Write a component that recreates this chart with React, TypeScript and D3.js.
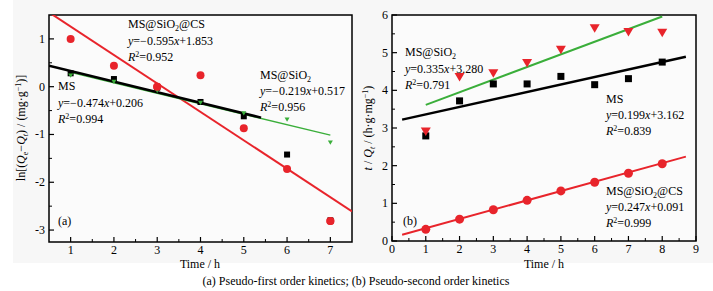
import React from "react";
import * as d3 from "d3";

// ---- Data: panel (a) pseudo-first order ----
const timeA = [1, 2, 3, 4, 5, 6, 7];
const msA = [0.28, 0.16, -0.02, -0.32, -0.62, -1.42, -2.8];
const sio2A = [0.23, 0.1, -0.09, -0.34, -0.56, -0.69, -1.17];
const csA = [1.0, 0.44, 0.0, 0.24, -0.87, -1.72, -2.81];
// drawn fit lines [slope, intercept, xStart, xEnd]
const msLineA = [-0.222, 0.551, 0.5, 5.4];
const sio2LineA = [-0.219, 0.517, 1, 7];
const csLineA = [-0.595, 1.853, 0.5, 7.5];

// ---- Data: panel (b) pseudo-second order ----
const timeB = [1, 2, 3, 4, 5, 6, 7, 8];
const msB = [2.79, 3.72, 4.17, 4.17, 4.37, 4.15, 4.31, 4.75];
const sio2B = [2.9, 4.35, 4.45, 4.72, 5.07, 5.64, 5.54, 5.52];
const csB = [0.31, 0.58, 0.83, 1.08, 1.33, 1.56, 1.8, 2.05];
const msLineB = [0.199, 3.162, 0.3, 8.7];
const sio2LineB = [0.335, 3.28, 1, 8];
const csLineB = [0.247, 0.091, 0.3, 8.7];

const xTicksA = [1, 2, 3, 4, 5, 6, 7];
const yTicksA = [-3, -2, -1, 0, 1];
const xTicksB = [0, 1, 2, 3, 4, 5, 6, 7, 8, 9];
const yTicksB = [0, 1, 2, 3, 4, 5, 6];

const RED = "#e8242b";
const GREEN = "#3aae3a";
const FONT = "'Liberation Serif', 'Times New Roman', serif";

const xA = d3.scaleLinear().domain([0.5, 7.5]).range([49, 352]);
const yA = d3.scaleLinear().domain([-3.25, 1.5]).range([242, 15]);
const xB = d3.scaleLinear().domain([0, 9]).range([392, 696]);
const yB = d3.scaleLinear().domain([0, 6]).range([241, 15]);

type S = d3.ScaleLinear<number, number>;

function Frame({ x, y, xt, yt, xMinor, yMinor }: { x: S; y: S; xt: number[]; yt: number[]; xMinor: number[]; yMinor: number[] }) {
  const [x0, x1] = x.range();
  const [y0, y1] = y.range();
  return (
    <g>
      <rect x={x0} y={y1} width={x1 - x0} height={y0 - y1} fill="#fbfbfb" stroke="#000" strokeWidth={1.5} />
      {xt.map((t) => (
        <g key={"xt" + t}>
          <line x1={x(t)} x2={x(t)} y1={y0} y2={y0 - 5} stroke="#000" strokeWidth={1.2} />
          <text x={x(t)} y={y0 + 12} fontSize={12} textAnchor="middle" fontFamily={FONT}>{t}</text>
        </g>
      ))}
      {xMinor.map((t) => (
        <line key={"xm" + t} x1={x(t)} x2={x(t)} y1={y0} y2={y0 - 3} stroke="#000" strokeWidth={1} />
      ))}
      {yt.map((t) => (
        <g key={"yt" + t}>
          <line x1={x0} x2={x0 + 5} y1={y(t)} y2={y(t)} stroke="#000" strokeWidth={1.2} />
          <text x={x0 - 4} y={y(t) + 4} fontSize={12} textAnchor="end" fontFamily={FONT}>{t < 0 ? "-" + Math.abs(t) : t}</text>
        </g>
      ))}
      {yMinor.map((t) => (
        <line key={"ym" + t} x1={x0} x2={x0 + 3} y1={y(t)} y2={y(t)} stroke="#000" strokeWidth={1} />
      ))}
    </g>
  );
}

function FitLine({ x, y, p, color, w, clip }: { x: S; y: S; p: number[]; color: string; w: number; clip: string }) {
  const [m, b, s, e] = p;
  const gen = d3.line<number>().x((d) => x(d)).y((d) => y(m * d + b));
  return <path d={gen([s, e]) || ""} stroke={color} strokeWidth={w} fill="none" clipPath={`url(#${clip})`} />;
}

function Squares({ x, y, xs, ys, size }: { x: S; y: S; xs: number[]; ys: number[]; size: number }) {
  return (
    <g>
      {xs.map((t, i) => (
        <rect key={i} x={x(t) - size / 2} y={y(ys[i]) - size / 2} width={size} height={size} fill="#000" />
      ))}
    </g>
  );
}

function Circles({ x, y, xs, ys, r }: { x: S; y: S; xs: number[]; ys: number[]; r: number }) {
  return (
    <g>
      {xs.map((t, i) => (
        <circle key={i} cx={x(t)} cy={y(ys[i])} r={r} fill={RED} />
      ))}
    </g>
  );
}

function Tris({ x, y, xs, ys, w, color }: { x: S; y: S; xs: number[]; ys: number[]; w: number; color: string }) {
  return (
    <g>
      {xs.map((t, i) => {
        const cx = x(t), cy = y(ys[i]);
        const h = w * 0.85;
        return <path key={i} d={`M${cx - w / 2},${cy - h / 2}L${cx + w / 2},${cy - h / 2}L${cx},${cy + h / 2}Z`} fill={color} />;
      })}
    </g>
  );
}

function Name({ x, y, kind }: { x: number; y: number; kind: "MS" | "SiO2" | "CS" }) {
  return (
    <text x={x} y={y} fontSize={12} fontFamily={FONT}>
      {kind === "MS" ? "MS" : (
        <>
          MS@SiO<tspan dy={3} fontSize={8}>2</tspan>
          {kind === "CS" ? <tspan dy={-3}>@CS</tspan> : null}
        </>
      )}
    </text>
  );
}

function Eq({ x, y, m, b }: { x: number; y: number; m: string; b: string }) {
  return (
    <text x={x} y={y} fontSize={12} fontFamily={FONT}>
      <tspan fontStyle="italic">y</tspan>={m}<tspan fontStyle="italic">x</tspan>+{b}
    </text>
  );
}

function R2({ x, y, v }: { x: number; y: number; v: string }) {
  return (
    <text x={x} y={y} fontSize={12} fontFamily={FONT}>
      <tspan fontStyle="italic">R</tspan>
      <tspan dy={-4} fontSize={8}>2</tspan>
      <tspan dy={4}>={v}</tspan>
    </text>
  );
}

const halves = (a: number, b: number) => d3.range(a, b + 0.001, 1).map((v) => v + 0.5);

export default function App() {
  return (
    <svg width={713} height={291} style={{ position: "absolute", left: 0, top: 0 }} fontFamily={FONT}>
      <rect x={0} y={0} width={713} height={291} fill="#fff" />
      <rect x={13} y={0} width={700} height={263} fill="#f7f7f7" />
      <defs>
        <clipPath id="clipA"><rect x={49} y={15} width={303} height={227} /></clipPath>
        <clipPath id="clipB"><rect x={392} y={15} width={304} height={226} /></clipPath>
      </defs>

      {/* Panel (a) */}
      <Frame x={xA} y={yA} xt={xTicksA} yt={yTicksA} xMinor={halves(1, 6)} yMinor={[-2.5, -1.5, -0.5, 0.5]} />
      <FitLine x={xA} y={yA} p={csLineA} color={RED} w={2} clip="clipA" />
      <FitLine x={xA} y={yA} p={sio2LineA} color={GREEN} w={1.3} clip="clipA" />
      <FitLine x={xA} y={yA} p={msLineA} color="#000" w={2.5} clip="clipA" />
      <Circles x={xA} y={yA} xs={timeA} ys={csA} r={4} />
      <Squares x={xA} y={yA} xs={timeA} ys={msA} size={6} />
      <Tris x={xA} y={yA} xs={timeA} ys={sio2A} w={5} color={GREEN} />
      <Circles x={xA} y={yA} xs={[3, 7]} ys={[csA[2], csA[6]]} r={4} />

      <Name x={128} y={28} kind="CS" />
      <Eq x={128} y={45} m="−0.595" b="1.853" />
      <R2 x={128} y={61} v="0.952" />
      <Name x={58} y={90} kind="MS" />
      <Eq x={58} y={107} m="−0.474" b="0.206" />
      <R2 x={58} y={123} v="0.994" />
      <Name x={260} y={79} kind="SiO2" />
      <Eq x={260} y={95} m="−0.219" b="0.517" />
      <R2 x={260} y={111} v="0.956" />
      <text x={58} y={225} fontSize={12}>(a)</text>

      <text x={200} y={268} fontSize={12} textAnchor="middle">Time / h</text>
      <text transform="translate(25,128) rotate(-90)" fontSize={12} textAnchor="middle">
        ln[(<tspan fontStyle="italic">Q</tspan><tspan dy={3} fontSize={8}>e</tspan>
        <tspan dy={-3}>−</tspan><tspan fontStyle="italic">Q</tspan><tspan dy={3} fontSize={8} fontStyle="italic">t</tspan>
        <tspan dy={-3}>) / (mg·g</tspan><tspan dy={-4} fontSize={8}>−1</tspan><tspan dy={4}>)]</tspan>
      </text>

      {/* Panel (b) */}
      <Frame x={xB} y={yB} xt={xTicksB} yt={yTicksB} xMinor={halves(0, 8)} yMinor={halves(0, 5)} />
      <FitLine x={xB} y={yB} p={csLineB} color={RED} w={2} clip="clipB" />
      <FitLine x={xB} y={yB} p={sio2LineB} color={GREEN} w={2} clip="clipB" />
      <FitLine x={xB} y={yB} p={msLineB} color="#000" w={2.5} clip="clipB" />
      <Squares x={xB} y={yB} xs={timeB} ys={msB} size={7} />
      <Tris x={xB} y={yB} xs={timeB} ys={sio2B} w={10} color={RED} />
      <Circles x={xB} y={yB} xs={timeB} ys={csB} r={4.5} />

      <Name x={405} y={56} kind="SiO2" />
      <Eq x={405} y={73} m="0.335" b="3.280" />
      <R2 x={405} y={89} v="0.791" />
      <Name x={606} y={103} kind="MS" />
      <Eq x={606} y={119} m="0.199" b="3.162" />
      <R2 x={606} y={135} v="0.839" />
      <Name x={606} y={195} kind="CS" />
      <Eq x={606} y={211} m="0.247" b="0.091" />
      <R2 x={606} y={227} v="0.999" />
      <text x={403} y={225} fontSize={12}>(b)</text>

      <text x={544} y={268} fontSize={12} textAnchor="middle">Time / h</text>
      <text transform="translate(372,128) rotate(-90)" fontSize={12} textAnchor="middle">
        <tspan fontStyle="italic">t</tspan> / <tspan fontStyle="italic">Q</tspan><tspan dy={3} fontSize={8} fontStyle="italic">t</tspan>
        <tspan dy={-3}> / (h·g·mg</tspan><tspan dy={-4} fontSize={8}>−1</tspan><tspan dy={4}>)</tspan>
      </text>

      <text x={356} y={285} fontSize={12} textAnchor="middle">(a) Pseudo-first order kinetics; (b) Pseudo-second order kinetics</text>
    </svg>
  );
}
